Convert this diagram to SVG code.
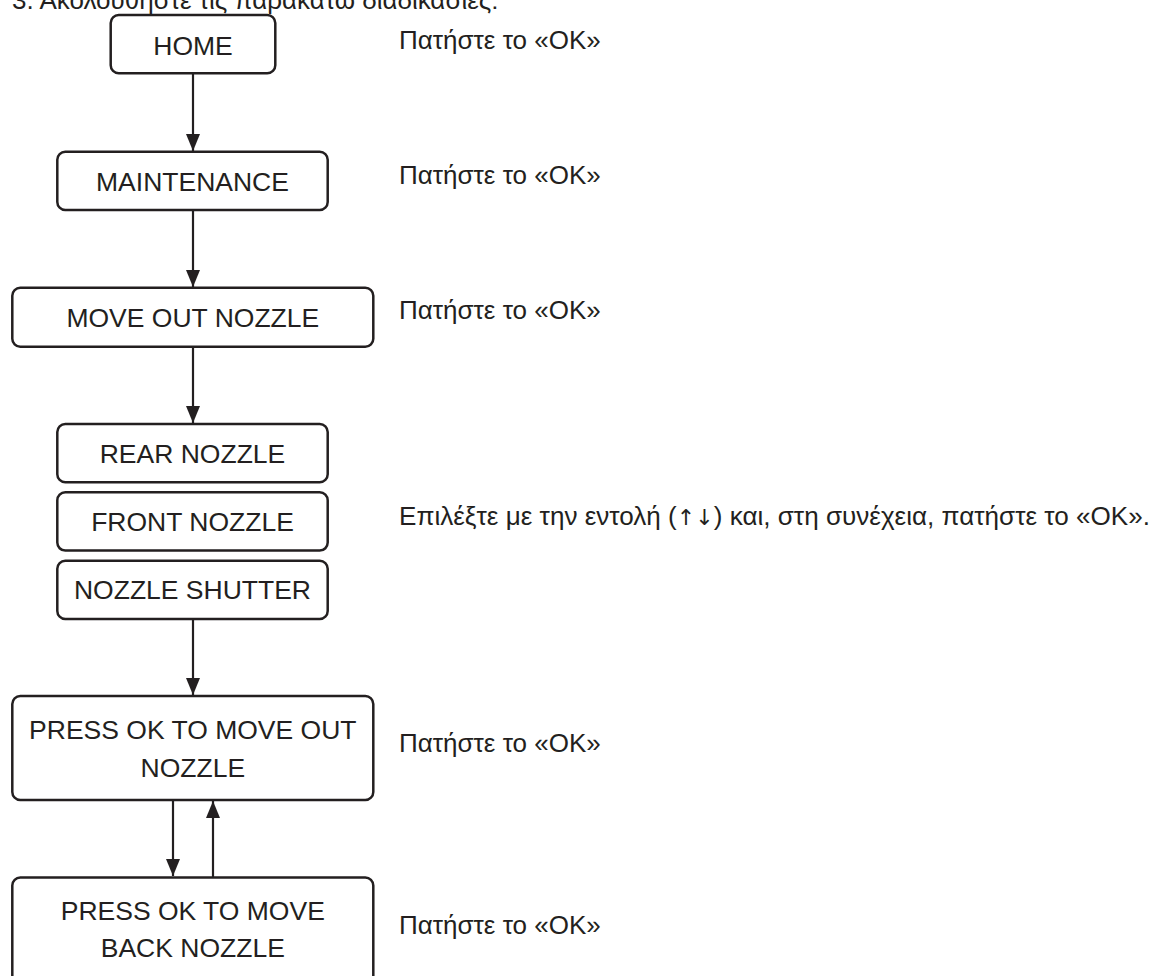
<svg xmlns="http://www.w3.org/2000/svg" width="1154" height="976" viewBox="0 0 1154 976">
<style>
.box{fill:#fff;stroke:#231f20;stroke-width:2.5}
.lbl{font-family:"Liberation Sans",Arial,sans-serif;font-size:26.5px;fill:#231f20;text-anchor:middle}
.note{font-family:"Liberation Sans",Arial,"DejaVu Sans",sans-serif;font-size:26px;fill:#231f20}
.arr{font-family:"DejaVu Sans",sans-serif;font-size:22px}
.edge{stroke:#231f20;stroke-width:2.2;fill:none;marker-end:url(#ah)}
</style>
<defs>
<marker id="ah" markerUnits="userSpaceOnUse" markerWidth="18" markerHeight="14" refX="17" refY="7" orient="auto">
<path d="M0,0 L17,7 L0,14 Z" fill="#231f20"/>
</marker>
</defs>
<rect width="1154" height="976" fill="#fff"/>
<text class="note" x="12" y="9">3. Ακολουθήστε τις παρακάτω διαδικασίες:</text>
<g id="connectors">
<line class="edge" x1="193" y1="73" x2="193" y2="151"/>
<line class="edge" x1="193" y1="210" x2="193" y2="287"/>
<line class="edge" x1="193" y1="347" x2="193" y2="423"/>
<line class="edge" x1="193" y1="619" x2="193" y2="695"/>
<line class="edge" x1="173" y1="800" x2="173" y2="876"/>
<line class="edge" x1="213" y1="877" x2="213" y2="801"/>
</g>
<g id="home"><rect class="box" x="110.7" y="15" width="164.6" height="58.3" rx="8"/><text class="lbl" x="193" y="55">HOME</text></g>
<g id="maintenance"><rect class="box" x="57.3" y="151.7" width="270.4" height="58.3" rx="8"/><text class="lbl" x="192.5" y="191">MAINTENANCE</text></g>
<g id="move-out-nozzle"><rect class="box" x="12.3" y="287.7" width="361" height="59" rx="8"/><text class="lbl" x="192.8" y="326.7">MOVE OUT NOZZLE</text></g>
<g id="rear-nozzle"><rect class="box" x="57.3" y="424" width="270.4" height="58.3" rx="8"/><text class="lbl" x="192.5" y="462.7">REAR NOZZLE</text></g>
<g id="front-nozzle"><rect class="box" x="57.3" y="492.3" width="270.4" height="58.3" rx="8"/><text class="lbl" x="192.5" y="531">FRONT NOZZLE</text></g>
<g id="nozzle-shutter"><rect class="box" x="57.3" y="560.7" width="270.4" height="58.3" rx="8"/><text class="lbl" x="192.5" y="599.4">NOZZLE SHUTTER</text></g>
<g id="press-out"><rect class="box" x="12.3" y="696" width="361" height="104" rx="8"/><text class="lbl" x="192.8" y="739">PRESS OK TO MOVE OUT</text><text class="lbl" x="192.8" y="776.7">NOZZLE</text></g>
<g id="press-back"><rect class="box" x="12.3" y="877.5" width="361" height="110" rx="8"/><text class="lbl" x="192.8" y="920">PRESS OK TO MOVE</text><text class="lbl" x="192.8" y="957">BACK NOZZLE</text></g>
<g id="notes">
<text class="note" x="399" y="48.5">Πατήστε το «OK»</text>
<text class="note" x="399" y="184">Πατήστε το «OK»</text>
<text class="note" x="399" y="319">Πατήστε το «OK»</text>
<text class="note" x="399" y="524.5" textLength="751" lengthAdjust="spacingAndGlyphs">Επιλέξτε με την εντολή (<tspan class="arr">↑↓</tspan>) και, στη συνέχεια, πατήστε το «OK».</text>
<text class="note" x="399" y="752">Πατήστε το «OK»</text>
<text class="note" x="399" y="934">Πατήστε το «OK»</text>
</g>
</svg>
